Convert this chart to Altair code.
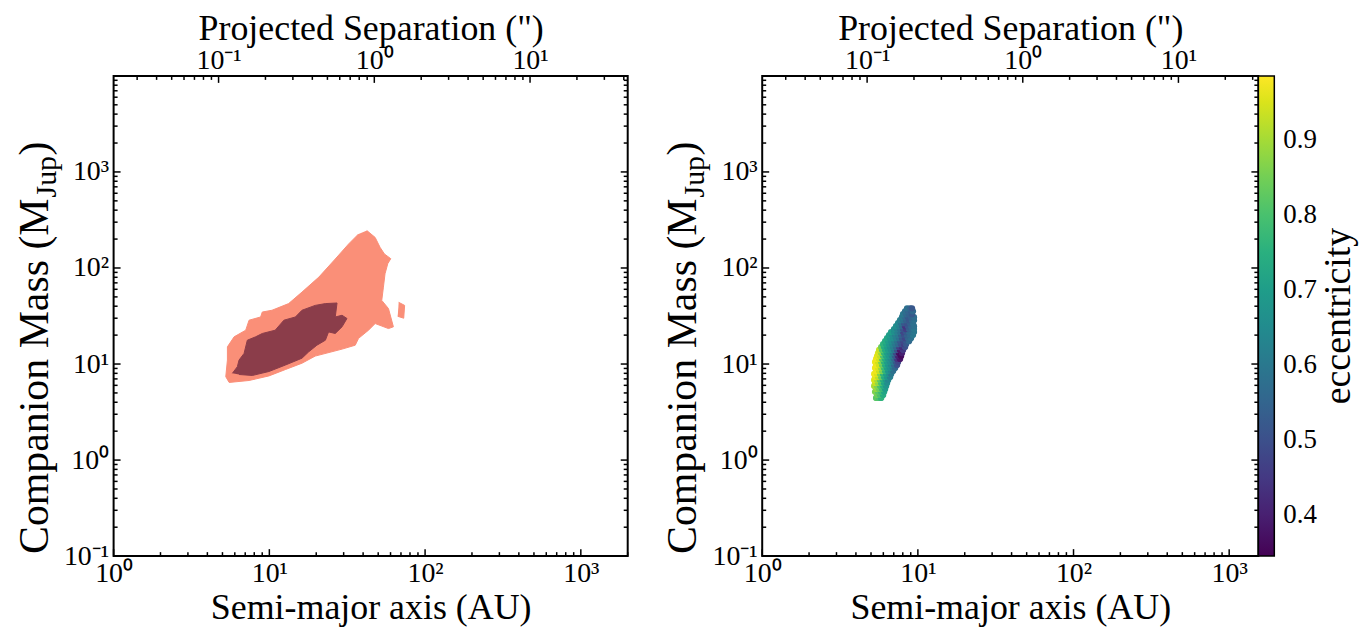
import altair as alt
import pandas as pd

FONT = "Liberation Serif"
DIST = 47.2           # pc, converts AU -> arcsec on the top axis
XMAX_L = 2000
XMAX_R = 1540
YMIN, YMAX = 0.1, 1e4
W_L, W_R, H = 516, 498, 482

# ---- left panel: contour regions (semi-major axis [AU], mass [MJup]) ----
outer_a = [42.3, 47.8, 51.4, 54.8, 60.2, 57.6, 55.3, 54.0, 52.7, 58.2, 62.6, 58.2, 47.8, 43.3,
           37.4, 35.6, 29.3, 19.7, 16.2, 12.7, 9.94, 7.41, 5.52, 5.25, 5.38, 5.38, 5.94, 7.05,
           7.41, 8.79, 9.01, 10.4, 13.3, 16.2, 20.8, 26.5, 32.3, 37.4]
outer_m = [245, 208, 164, 140, 125, 111, 87, 63.2, 46.0, 37.8, 24.4, 23.4, 26.4, 22.5,
           18.5, 15.7, 14.3, 12.1, 10.2, 8.77, 7.52, 6.74, 6.43, 7.38, 11.0, 15.1, 19.2, 22.5,
           28.6, 30.9, 34.8, 36.3, 42.6, 56.1, 80.4, 124, 178, 226]
blob_a = [67.7, 73.9, 72.9, 66.7]
blob_m = [43.9, 40.8, 30.0, 31.4]
inner_a = [5.79, 6.23, 6.39, 6.88, 7.22, 8.16, 9.01, 10.9, 12.4, 14.7, 16.2, 19.7, 22.9, 27.2,
           26.5, 29.3, 31.5, 29.3, 26.5, 24.0, 22.9, 20.2, 17.9, 16.2, 12.7, 9.94, 7.78, 6.39]
inner_m = [8.01, 9.37, 11.0, 12.9, 17.7, 19.2, 20.8, 22.5, 28.6, 30.9, 36.3, 40.8, 42.6, 43.2,
           30.9, 32.2, 29.8, 24.4, 20.8, 21.6, 17.7, 15.7, 13.4, 11.5, 9.77, 8.36, 7.60, 7.78]

# ---- right panel: posterior samples coloured by eccentricity (row by row in mass) ----
row_m = [4.44, 4.77, 5.13, 5.51, 5.92, 6.36, 6.83, 7.33, 7.88, 8.46, 9.09, 9.76, 10.5, 11.3,
         12.1, 13.0, 14.0, 15.0, 16.1, 17.3, 18.6, 20.0, 21.5, 23.1, 24.8, 26.6, 28.6, 30.7,
         33.0, 35.4, 38.0]
row_a = [
    [5.39, 5.64, 5.81],
    [5.47, 5.72, 5.98],
    [5.31, 5.55, 5.81, 6.07],
    [5.39, 5.64, 5.89, 6.16],
    [5.24, 5.47, 5.72, 5.98, 6.25],
    [5.31, 5.55, 5.81, 6.07, 6.34],
    [5.24, 5.47, 5.72, 5.98, 6.25, 6.44],
    [5.31, 5.55, 5.81, 6.07, 6.34, 6.63],
    [5.24, 5.47, 5.72, 5.98, 6.25, 6.53, 6.73],
    [5.39, 5.64, 5.89, 6.16, 6.44, 6.73, 6.93],
    [5.31, 5.55, 5.81, 6.07, 6.34, 6.63, 6.93, 7.14],
    [5.39, 5.64, 5.89, 6.16, 6.44, 6.73, 7.03, 7.35],
    [5.31, 5.55, 5.81, 6.07, 6.34, 6.63, 6.93, 7.24, 7.46],
    [5.39, 5.64, 5.89, 6.16, 6.44, 6.73, 7.03, 7.35, 7.68],
    [5.47, 5.72, 5.98, 6.25, 6.53, 6.83, 7.14, 7.46, 7.80],
    [5.55, 5.81, 6.07, 6.34, 6.63, 6.93, 7.24, 7.57, 7.91],
    [5.64, 5.89, 6.16, 6.44, 6.73, 7.03, 7.35, 7.68, 8.03],
    [5.81, 6.07, 6.34, 6.63, 6.93, 7.24, 7.57, 7.91, 8.27],
    [5.98, 6.25, 6.53, 6.83, 7.14, 7.46, 7.80, 8.15, 8.39],
    [6.16, 6.44, 6.73, 7.03, 7.35, 7.68, 8.03, 8.39, 8.77],
    [6.34, 6.63, 6.93, 7.24, 7.57, 7.91, 8.27, 8.64, 9.03],
    [6.53, 6.83, 7.14, 7.46, 7.80, 8.15, 8.52, 8.90, 9.30],
    [6.73, 7.03, 7.35, 7.68, 8.03, 8.39, 8.77, 9.17, 9.44],
    [7.03, 7.35, 7.68, 8.03, 8.39, 8.77, 9.17, 9.44],
    [7.24, 7.57, 7.91, 8.27, 8.64, 9.03, 9.44],
    [7.46, 7.80, 8.15, 8.52, 8.90, 9.30],
    [7.68, 8.03, 8.39, 8.77, 9.17, 9.44],
    [7.91, 8.27, 8.64, 9.03, 9.44],
    [8.03, 8.39, 8.77, 9.17],
    [8.27, 8.64, 9.03, 9.30],
    [8.52, 8.90, 9.17],
]
row_e = [
    [0.82, 0.80, 0.76],
    [0.84, 0.80, 0.74],
    [0.86, 0.82, 0.78, 0.72],
    [0.88, 0.84, 0.78, 0.70],
    [0.90, 0.86, 0.80, 0.74, 0.68],
    [0.93, 0.88, 0.80, 0.72, 0.66],
    [0.95, 0.90, 0.82, 0.74, 0.68, 0.64],
    [0.96, 0.92, 0.84, 0.74, 0.68, 0.62],
    [0.97, 0.95, 0.86, 0.76, 0.70, 0.66, 0.60],
    [0.97, 0.93, 0.86, 0.76, 0.68, 0.64, 0.58],
    [0.97, 0.95, 0.88, 0.78, 0.70, 0.66, 0.60, 0.56],
    [0.97, 0.94, 0.84, 0.74, 0.68, 0.64, 0.56, 0.50],
    [0.97, 0.94, 0.86, 0.76, 0.70, 0.66, 0.60, 0.52, 0.48],
    [0.97, 0.94, 0.82, 0.74, 0.68, 0.64, 0.56, 0.44, 0.38],
    [0.96, 0.92, 0.80, 0.72, 0.68, 0.62, 0.52, 0.40, 0.36],
    [0.95, 0.88, 0.76, 0.70, 0.66, 0.60, 0.48, 0.36, 0.40],
    [0.93, 0.82, 0.74, 0.70, 0.66, 0.60, 0.50, 0.38, 0.45],
    [0.84, 0.74, 0.70, 0.66, 0.62, 0.56, 0.46, 0.42, 0.50],
    [0.76, 0.72, 0.68, 0.64, 0.60, 0.56, 0.50, 0.46, 0.52],
    [0.74, 0.70, 0.66, 0.62, 0.58, 0.52, 0.48, 0.52, 0.56],
    [0.72, 0.68, 0.66, 0.62, 0.58, 0.52, 0.48, 0.55, 0.58],
    [0.70, 0.66, 0.62, 0.60, 0.54, 0.50, 0.54, 0.56, 0.60],
    [0.70, 0.66, 0.62, 0.58, 0.48, 0.52, 0.56, 0.58, 0.60],
    [0.66, 0.62, 0.58, 0.50, 0.46, 0.54, 0.57, 0.60],
    [0.66, 0.62, 0.56, 0.44, 0.52, 0.56, 0.58],
    [0.64, 0.58, 0.52, 0.50, 0.54, 0.58],
    [0.62, 0.58, 0.54, 0.52, 0.56, 0.58],
    [0.60, 0.56, 0.52, 0.54, 0.57],
    [0.60, 0.56, 0.54, 0.52],
    [0.58, 0.55, 0.53, 0.56],
    [0.58, 0.55, 0.52],
]
E_DOMAIN = [0.345, 0.985]
E_TICKS = [0.4, 0.5, 0.6, 0.7, 0.8, 0.9]

# ---- axis ticks ----
x_major = [1, 10, 100, 1000]
x_minor = [2, 3, 4, 5, 6, 7, 8, 9, 20, 30, 40, 50, 60, 70, 80, 90,
           200, 300, 400, 500, 600, 700, 800, 900, 2000]
y_major = [0.1, 1, 10, 100, 1000]
y_minor = [0.2, 0.3, 0.4, 0.5, 0.6, 0.7, 0.8, 0.9, 2, 3, 4, 5, 6, 7, 8, 9,
           20, 30, 40, 50, 60, 70, 80, 90, 200, 300, 400, 500, 600, 700, 800, 900,
           2000, 3000, 4000, 5000, 6000, 7000, 8000, 9000]
sep_major = [0.1, 1, 10]
sep_minor = [0.03, 0.04, 0.05, 0.06, 0.07, 0.08, 0.09, 0.2, 0.3, 0.4, 0.5, 0.6, 0.7,
             0.8, 0.9, 2, 3, 4, 5, 6, 7, 8, 9, 20, 30, 40]
ytitle_parts = ["Companion Mass (M", "Jup", ")"]
cbar_title = ["eccentricity"]

LBL = ("round(log(datum.value)/LN10) == -1 ? '10⁻¹' : round(log(datum.value)/LN10) == 0 ? '10⁰' : "
       "round(log(datum.value)/LN10) == 1 ? '10¹' : round(log(datum.value)/LN10) == 2 ? '10²' : '10³'")

MAJ, MIN, TW = 7, 4, 1.5
TICK_FS, TITLE_FS = 28, 36
YT_X = -66   # baseline of the rotated y title, relative to the plot's left edge


def panel(xmax, W, data_fn, extra=()):
    xs = alt.Scale(type="log", domain=[1, xmax])
    ys = alt.Scale(type="log", domain=[YMIN, YMAX])
    ax_x = alt.Axis(values=x_major, labelExpr=LBL, ticks=False, domain=False, grid=False,
                    title="Semi-major axis (AU)", labelPadding=3, titlePadding=4, labelFlush=False)
    ax_y = alt.Axis(values=y_major, labelExpr=LBL, ticks=False, domain=False, grid=False,
                    title=None, labelPadding=5)
    xm = [v for v in x_minor if v <= xmax]

    def X(f):
        return alt.X(f, scale=xs, axis=ax_x)

    def Y(f):
        return alt.Y(f, scale=ys, axis=ax_y)

    def xt(vals, ln):
        return alt.Chart(pd.DataFrame({"v": vals})).mark_rule(color="black", strokeWidth=TW).encode(
            x=X("v:Q"), y=alt.value(H), y2=alt.value(H - ln))

    def yt(vals, ln, side):
        x0 = 0 if side == "l" else W
        x1 = ln if side == "l" else W - ln
        return alt.Chart(pd.DataFrame({"v": vals})).mark_rule(color="black", strokeWidth=TW).encode(
            y=Y("v:Q"), x=alt.value(x0), x2=alt.value(x1))

    def ttl(i, x, y, fs, align):
        return alt.Chart(pd.DataFrame({"t": [ytitle_parts[i]]})).mark_text(
            angle=270, align=align, baseline="alphabetic", font=FONT, fontSize=fs, color="black").encode(
            text="t:N", x=alt.value(x), y=alt.value(y))

    yj = 123
    titles = [ttl(0, YT_X, yj, 42, "right"), ttl(1, YT_X + 8, yj - 1, 30, "left"),
              ttl(2, YT_X, yj - 43, 42, "left")]

    inner = alt.layer(*data_fn(X, Y), xt(x_major, MAJ), xt(xm, MIN),
                      yt(y_major, MAJ, "l"), yt(y_minor, MIN, "l"),
                      yt(y_major, MAJ, "r"), yt(y_minor, MIN, "r"), *titles, *extra)

    ss = alt.Scale(type="log", domain=[1 / DIST, xmax / DIST])
    ax_top = alt.Axis(orient="top", values=sep_major, labelExpr=LBL, ticks=False, domain=False, grid=False,
                      title='Projected Separation (")', labelPadding=1, titlePadding=0, labelFlush=False)
    sm = [v for v in sep_minor if v <= xmax / DIST]
    top_major = alt.Chart(pd.DataFrame({"s": sep_major})).mark_rule(color="black", strokeWidth=TW).encode(
        x=alt.X("s:Q", scale=ss, axis=ax_top), y=alt.value(0), y2=alt.value(MAJ))
    top_minor = alt.Chart(pd.DataFrame({"s": sm})).mark_rule(color="black", strokeWidth=TW).encode(
        x=alt.X("s:Q", scale=ss, axis=ax_top), y=alt.value(0), y2=alt.value(MIN))
    top = alt.layer(top_major, top_minor)
    return alt.layer(inner, top).resolve_scale(x="independent").properties(width=W, height=H)


def left_data(X, Y):
    outer_df = pd.DataFrame({"a": outer_a + blob_a, "m": outer_m + blob_m,
                             "g": ["o"] * len(outer_a) + ["b"] * len(blob_a),
                             "i": list(range(len(outer_a))) + list(range(len(blob_a)))})
    inner_df = pd.DataFrame({"a": inner_a, "m": inner_m, "i": list(range(len(inner_a)))})
    outer_layer = alt.Chart(outer_df).mark_line(fill="#fa8f78", stroke="#fa8f78", strokeWidth=1).encode(
        x=X("a:Q"), y=Y("m:Q"), detail="g:N", order="i:Q")
    inner_layer = alt.Chart(inner_df).mark_line(fill="#8b3d4a", stroke="#8b3d4a", strokeWidth=1).encode(
        x=X("a:Q"), y=Y("m:Q"), order="i:Q")
    return [outer_layer, inner_layer]


def right_data(X, Y):
    a, m, e = [], [], []
    for mm, aa, ee in zip(row_m, row_a, row_e):
        a += aa
        e += ee
        m += [mm] * len(aa)
    sc_df = pd.DataFrame({"a": a, "m": m, "e": e})
    scatter = alt.Chart(sc_df).mark_circle(size=40, opacity=1).encode(
        x=X("a:Q"), y=Y("m:Q"),
        color=alt.Color("e:Q", scale=alt.Scale(scheme="viridis", domain=E_DOMAIN),
                        legend=alt.Legend(title=None, orient="none", legendX=W_R, legendY=0,
                                          direction="vertical", gradientLength=H, gradientThickness=16,
                                          gradientStrokeColor="black", gradientStrokeWidth=1.5,
                                          values=E_TICKS, labelFontSize=27, labelFont=FONT,
                                          labelColor="black", labelOffset=9, labelOverlap=False)))
    return [scatter]


cbar_lbl = alt.Chart(pd.DataFrame({"t": cbar_title})).mark_text(
    angle=270, align="center", baseline="alphabetic", font=FONT, fontSize=38, color="black").encode(
    text="t:N", x=alt.value(W_R + 92), y=alt.value(H / 2))

left = panel(XMAX_L, W_L, left_data)
right = panel(XMAX_R, W_R, right_data, extra=[cbar_lbl])

chart = alt.hconcat(left, right, spacing=32).resolve_legend(color="independent").configure_view(
    stroke="black", strokeWidth=2).configure_axis(
    labelFont=FONT, titleFont=FONT, labelFontSize=TICK_FS, titleFontSize=TITLE_FS,
    labelColor="black", titleColor="black", titleFontWeight="normal").properties(
    padding={"left": 5, "top": 0, "right": 0, "bottom": 1})

chart.save("out.html", embed_options={"renderer": "svg", "actions": False})
